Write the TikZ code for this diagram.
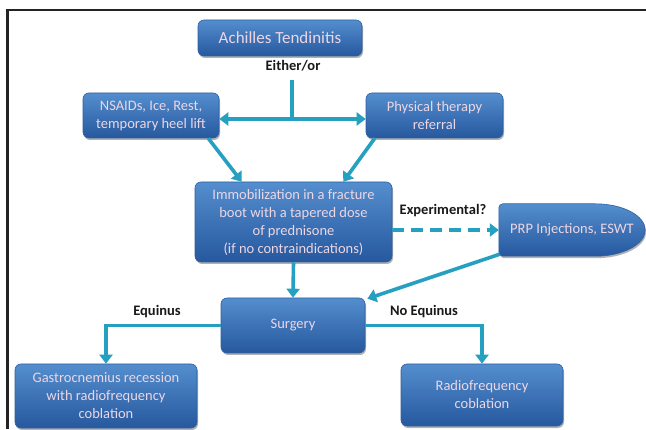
\documentclass[tikz,border=0pt]{standalone}
\usepackage{fontspec}
\setmainfont{Carlito}
\usepackage{tikz}
\usetikzlibrary{positioning, arrows.meta, shadows, calc, backgrounds}

\definecolor{boxtop}{RGB}{84,142,206}
\definecolor{boxbot}{RGB}{38,88,158}
\definecolor{boxline}{RGB}{46,96,160}
\definecolor{boxtext}{RGB}{236,214,228}
\definecolor{linkteal}{RGB}{38,160,192}

\begin{document}
\begin{tikzpicture}[
    x=1pt, y=1pt,
    font=\fontsize{14.5}{18}\selectfont,
    box/.style={rectangle, rounded corners=6pt, align=center, text=boxtext,
        top color=boxtop, bottom color=boxbot, draw=boxline, line width=0.6pt,
        drop shadow={shadow xshift=1pt, shadow yshift=-2pt, opacity=0.3, fill=black}},
    lbl/.style={font=\fontsize{14.5}{16}\selectfont\bfseries, text={rgb,255:red,25;green,25;blue,25}},
    link/.style={draw=linkteal, line width=3.6pt},
    arrow/.style={link, -{Triangle[length=9pt, width=13pt]}}
]
\useasboundingbox (0,0) rectangle (646,429);
% frame (cut off at the bottom)
\draw[line width=2.5pt, color={rgb,255:red,35;green,35;blue,35}] (7.5,0) -- (7.5,419) -- (646,419);

% Nodes (top to bottom)
\node[box, minimum width=164pt, minimum height=36pt, font=\fontsize{17}{20}\selectfont] (achilles) at (280,391) {Achilles Tendinitis};
\node[lbl] (either) at (293,363) {Either/or};
\node[box, minimum width=136pt, minimum height=45pt] (nsaids) at (151,313.5) {NSAIDs, Ice, Rest,\\temporary heel lift};
\node[box, minimum width=137pt, minimum height=45pt] (physio) at (434.5,313.5) {Physical therapy\\referral};
\node[box, minimum width=197pt, minimum height=80pt] (immob) at (293.5,207) {Immobilization in a fracture\\boot with a tapered dose\\of prednisone\\(if no contraindications)};
\node[text=boxtext, minimum width=146pt, minimum height=52pt] (prp) at (572,199) {PRP Injections, ESWT};
\node[lbl] (experimental) at (443,218) {Experimental?};
\node[box, minimum width=144pt, minimum height=55pt] (surgery) at (293,103.5) {Surgery};
\node[lbl] (equinus) at (157,117) {Equinus};
\node[lbl] (noequinus) at (424,117) {No Equinus};
\node[box, minimum width=182pt, minimum height=64pt] (gastro) at (106,33) {Gastrocnemius recession\\with radiofrequency\\coblation};
\node[box, minimum width=162pt, minimum height=62pt] (radio) at (482,34) {Radiofrequency\\coblation};

% white page and bullet shape behind the PRP text
\begin{pgfonlayer}{background}
\fill[white] (0,0) rectangle (646,429);
\path[top color=boxtop, bottom color=boxbot, draw=boxline, line width=0.6pt,
      drop shadow={shadow xshift=1pt, shadow yshift=-2pt, opacity=0.3, fill=black}]
    ([xshift=4pt]prp.north west) -- ([xshift=-50pt]prp.north east)
    .. controls ([xshift=-22.4pt]prp.north east) and ([yshift=14.4pt]prp.east) .. (prp.east)
    .. controls ([yshift=-14.4pt]prp.east) and ([xshift=-22.4pt]prp.south east) .. ([xshift=-50pt]prp.south east)
    -- ([xshift=4pt]prp.south west) to[out=180, in=-90] ([yshift=4pt]prp.south west)
    -- ([yshift=-4pt]prp.north west) to[out=90, in=180] cycle;
\end{pgfonlayer}

% Connectors
\coordinate (split) at (292,349);
\coordinate (junction) at (292,310);
\draw[link] (split) -- (junction);
\draw[link, {Triangle[length=9pt, width=13pt]}-{Triangle[length=9pt, width=13pt]}] (nsaids.east |- junction) -- (physio.west |- junction);
\draw[arrow] ([xshift=-11pt]nsaids.south east) -- ([xshift=47pt]immob.north west);
\draw[arrow] ([xshift=9pt]physio.south west) -- ([xshift=-49pt]immob.north east);
\draw[arrow] (immob.south) -- (surgery.north);
\draw[arrow, dash pattern=on 12pt off 7pt] (immob.east |- prp.west) -- (prp.west);
\draw[arrow] ([xshift=1pt, yshift=2pt]prp.south west) -- ([xshift=2pt, yshift=-1pt]surgery.north east);
\draw[arrow] (surgery.west) -| (gastro.north);
\draw[arrow] (surgery.east) -| (radio.north);

\end{tikzpicture}
\end{document}
